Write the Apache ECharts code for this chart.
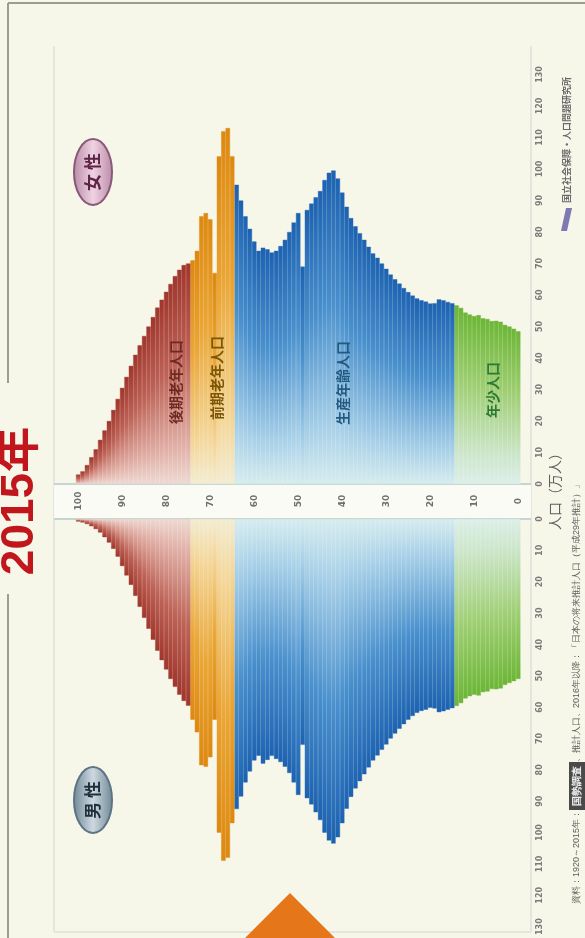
<!DOCTYPE html>
<html>
<head>
<meta charset="utf-8">
<script src="https://cdn.jsdelivr.net/npm/echarts@6/dist/echarts.min.js"></script>
<style>
  html, body { margin: 0; padding: 0; background: #f6f6e9; }
  #chart { width: 585px; height: 938px; }
</style>
</head>
<body>
<div id="chart"></div>
<script>
// Japan, 2015: population by single year of age (万人), 100 = 100歳以上
const ages = Array.from({ length: 101 }, (_, i) => String(i));
const ageTicks = [0, 10, 20, 30, 40, 50, 60, 70, 80, 90, 100];
const popTicks = [0, 10, 20, 30, 40, 50, 60, 70, 80, 90, 100, 110, 120, 130];

const female = [
  48.5, 49.3, 50.0, 50.5, 51.5, 51.8, 51.7, 52.4, 52.6, 53.6,
  53.3, 53.8, 54.4, 55.9, 56.7, 57.4, 57.8, 58.3, 58.6, 57.4,
  57.3, 57.9, 58.3, 58.9, 59.8, 60.9, 62.2, 63.6, 65.0, 66.5,
  68.3, 70.0, 71.8, 73.2, 75.3, 77.5, 79.6, 81.8, 84.4, 88.0,
  92.5, 97.0, 99.5, 98.8, 96.5, 93.0, 91.0, 89.0, 87.0, 69.0,
  86.0, 83.0, 80.0, 77.5, 75.5, 74.0, 73.5, 74.5, 75.0, 74.0,
  77.0, 81.0, 85.0, 90.0, 95.0, 104.0, 113.0, 112.0, 104.0, 67.0,
  84.0, 86.0, 85.0, 74.0, 71.0, 70.0, 69.5, 68.0, 66.0, 63.5,
  61.0, 58.5, 56.0, 53.0, 50.0, 47.0, 44.0, 41.0, 37.5, 34.0,
  30.5, 27.0, 23.5, 20.0, 17.0, 14.0, 11.0, 8.5, 6.0, 4.0, 3.0
];
const male = [
  51.0, 51.7, 52.3, 52.9, 54.0, 54.3, 54.2, 55.0, 55.2, 56.3,
  56.0, 56.5, 57.2, 58.7, 59.6, 60.3, 60.8, 61.3, 61.6, 60.4,
  60.2, 60.8, 61.2, 61.8, 62.8, 64.0, 65.4, 66.9, 68.4, 70.0,
  71.9, 73.6, 75.4, 77.0, 79.2, 81.4, 83.6, 85.9, 88.6, 92.4,
  97.0, 101.5, 103.5, 102.5, 100.0, 96.0, 93.5, 91.0, 89.0, 72.0,
  88.0, 84.0, 81.0, 79.0, 77.5, 76.5, 75.5, 76.8, 78.0, 75.5,
  77.0, 80.5, 84.0, 88.5, 92.5, 97.0, 108.0, 109.0, 100.0, 64.0,
  76.0, 79.0, 78.5, 68.0, 64.0, 59.5, 58.0, 56.0, 53.5, 51.0,
  48.0, 45.0, 42.0, 38.5, 35.0, 31.5, 28.0, 24.5, 21.0, 18.0,
  15.0, 12.0, 9.5, 7.5, 5.8, 4.3, 3.2, 2.3, 1.6, 1.1, 0.8
];

// age bands: first age of each band
const bandNames = ['年少人口', '生産年齢人口', '前期老年人口', '後期老年人口'];
const bandStarts = [0, 15, 65, 75];

// colour ramps per band: outer tip -> base
const ramps = [
  ['#6cb636', '#9fcf74', '#cde6cb', '#dcefe9'],
  ['#1c62b1', '#4990ce', '#a9d1e9', '#d6ecef'],
  ['#dd8810', '#eaa636', '#f4d79a', '#f3ecd2'],
  ['#a0362c', '#bd6156', '#e1afa6', '#eed9d3']
];

function bandOf(age) {
  let b = 0;
  bandStarts.forEach((s, i) => { if (age >= s) b = i; });
  return b;
}
function ramp(band, downward) {
  const c = ramps[band];
  const stops = [
    { offset: 0, color: c[0] }, { offset: 0.42, color: c[1] },
    { offset: 0.82, color: c[2] }, { offset: 1, color: c[3] }
  ];
  return downward
    ? new echarts.graphic.LinearGradient(0, 1, 0, 0, stops)
    : new echarts.graphic.LinearGradient(0, 0, 0, 1, stops);
}
function barData(values, downward) {
  return values.map((v, i) => {
    const g = ramp(bandOf(i), downward);
    return { value: v, itemStyle: { color: g, borderColor: g, borderWidth: 0.4 } };
  });
}

const popMax = popTicks[popTicks.length - 1];
const popStep = popTicks[1] - popTicks[0];
const pxPerUnit = 3.15;
const plotH = popMax * pxPerUnit;
const femaleBase = 484, maleBase = 519;
const gridLeft = 76, gridWidth = 444.4;

const chart = echarts.init(document.getElementById('chart'), null, { renderer: 'canvas' });

function vText(x, y, text, font, fill, extra) {
  return {
    type: 'text', x: x, y: y, rotation: Math.PI / 2, z: 100,
    style: Object.assign({
      text: text, font: font, fill: fill,
      align: 'center', verticalAlign: 'middle',
      textAlign: 'center', textVerticalAlign: 'middle'
    }, extra || {})
  };
}

const cjk = '"Noto Sans CJK JP", "Noto Sans", sans-serif';

chart.setOption({
  animation: false,
  backgroundColor: '#f6f6e9',
  grid: [
    { left: gridLeft, width: gridWidth, top: femaleBase - plotH, height: plotH },
    { left: gridLeft, width: gridWidth, top: maleBase, height: plotH }
  ],
  xAxis: [
    {
      gridIndex: 0, type: 'category', data: ages, inverse: true,
      axisLine: { show: false }, axisTick: { show: false }, splitLine: { show: false },
      axisLabel: {
        interval: (idx, val) => ageTicks.indexOf(+val) >= 0,
        rotate: 90, align: 'center', margin: 17,
        fontSize: 9, fontWeight: 'bold', color: '#6f6f6f', fontFamily: 'DejaVu Sans'
      }
    },
    {
      gridIndex: 1, type: 'category', data: ages, inverse: true,
      axisLine: { show: false }, axisTick: { show: false }, axisLabel: { show: false }
    }
  ],
  yAxis: [
    {
      gridIndex: 0, type: 'value', min: 0, max: popMax, interval: popStep, position: 'right',
      axisLine: { show: false }, axisTick: { show: false }, splitLine: { show: false },
      axisLabel: { rotate: 90, margin: 16, fontSize: 8, fontWeight: 'bold', color: '#7a7a7a', fontFamily: 'DejaVu Sans' }
    },
    {
      gridIndex: 1, type: 'value', min: 0, max: popMax, interval: popStep, position: 'right', inverse: true,
      axisLine: { show: false }, axisTick: { show: false }, splitLine: { show: false },
      axisLabel: { rotate: 90, margin: 16, fontSize: 8, fontWeight: 'bold', color: '#7a7a7a', fontFamily: 'DejaVu Sans' }
    }
  ],
  series: [
    {
      name: '女性', type: 'bar', xAxisIndex: 0, yAxisIndex: 0,
      barCategoryGap: '0%', data: barData(female, false)
    },
    {
      name: '男性', type: 'bar', xAxisIndex: 1, yAxisIndex: 1,
      barCategoryGap: '0%', data: barData(male, true)
    }
  ],
  graphic: [
    // outer frame
    { type: 'line', shape: { x1: 8, y1: 3, x2: 585, y2: 3 }, style: { stroke: '#9c9c92', lineWidth: 2 } },
    { type: 'line', shape: { x1: 8, y1: 3, x2: 8, y2: 383 }, style: { stroke: '#9c9c92', lineWidth: 2 } },
    { type: 'line', shape: { x1: 8, y1: 594, x2: 8, y2: 938 }, style: { stroke: '#9c9c92', lineWidth: 2 } },
    // plot outline
    { type: 'line', shape: { x1: 54, y1: 46, x2: 54, y2: 932 }, style: { stroke: '#e2e6dc', lineWidth: 2 } },
    { type: 'line', shape: { x1: 531, y1: 46, x2: 531, y2: 932 }, style: { stroke: '#e2e6dc', lineWidth: 2 } },
    { type: 'line', shape: { x1: 54, y1: 932, x2: 531, y2: 932 }, style: { stroke: '#e2e6dc', lineWidth: 2 } },
    // age band between the halves
    { type: 'rect', shape: { x: 54, y: femaleBase, width: 477, height: maleBase - femaleBase }, style: { fill: '#fbfbf5' } },
    { type: 'line', shape: { x1: 54, y1: femaleBase, x2: 531, y2: femaleBase }, style: { stroke: '#c6d5cf', lineWidth: 2 } },
    { type: 'line', shape: { x1: 54, y1: maleBase, x2: 531, y2: maleBase }, style: { stroke: '#c6d5cf', lineWidth: 2 } },
    // title
    vText(20, 501, '2015年', 'bold 46px "Liberation Sans", "Noto Sans CJK JP", sans-serif', '#c0161c'),
    // band names
    vText(176, 382, bandNames[3], 'bold 14px ' + cjk, '#6e2a22'),
    vText(217, 378, bandNames[2], 'bold 14px ' + cjk, '#7a5608'),
    vText(343, 383, bandNames[1], 'bold 14px ' + cjk, '#245a80'),
    vText(493, 390, bandNames[0], 'bold 14px ' + cjk, '#2e7a35'),
    // sex badges
    {
      type: 'ellipse', z: 90, shape: { cx: 93, cy: 172, rx: 19, ry: 33 },
      style: {
        fill: new echarts.graphic.LinearGradient(0, 0, 1, 0, [
          { offset: 0, color: '#b98aa6' }, { offset: 0.5, color: '#efd3e3' }, { offset: 1, color: '#b98aa6' }
        ]),
        stroke: '#8a5878', lineWidth: 2
      }
    },
    vText(93, 172, '女 性', 'bold 17px ' + cjk, '#5e2446'),
    {
      type: 'ellipse', z: 90, shape: { cx: 93, cy: 800, rx: 19, ry: 33 },
      style: {
        fill: new echarts.graphic.LinearGradient(0, 0, 1, 0, [
          { offset: 0, color: '#6f8797' }, { offset: 0.5, color: '#cdd9e0' }, { offset: 1, color: '#6f8797' }
        ]),
        stroke: '#5d7483', lineWidth: 2
      }
    },
    vText(93, 800, '男 性', 'bold 17px ' + cjk, '#1f2e3b'),
    // axis title
    vText(555, 488, '人口（万人）', '14px ' + cjk, '#5f5f5f'),
    // source notes
    vText(567, 140, '国立社会保障・人口問題研究所', 'bold 9px ' + cjk, '#6a6a6a'),
    {
      type: 'polygon', z: 95,
      shape: { points: [[561, 231], [566, 208], [572, 208], [567, 231]] },
      style: { fill: '#7f78b4' }
    },
    vText(577, 692, '{n|資料：1920～2015年：}{h|国勢調査}{n|、推計人口、2016年以降：「日本の将来推計人口（平成29年推計）」}',
      '9px ' + cjk, '#5c5c5c', {
        rich: {
          n: { fontSize: 9, fill: '#5c5c5c', color: '#5c5c5c' },
          h: { fontSize: 10, fontWeight: 'bold', fill: '#eeeeee', color: '#eeeeee', backgroundColor: '#4a4a4a', padding: [3, 4] }
        }
      }),
    // marker triangle
    { type: 'polygon', z: 90, shape: { points: [[290, 893], [245, 938], [335, 938]] }, style: { fill: '#e6761a' } }
  ]
});
</script>
</body>
</html>
